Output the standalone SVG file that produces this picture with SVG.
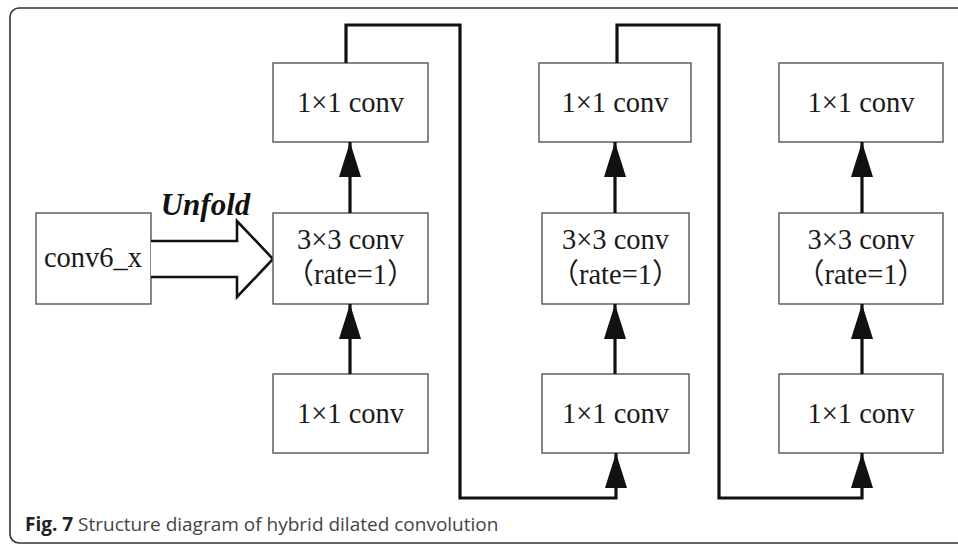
<svg xmlns="http://www.w3.org/2000/svg" width="958" height="544" viewBox="0 0 958 544">
<style>
.box{fill:#fff;stroke:#555;stroke-width:1.4}
.lbl{font-family:"Liberation Serif","Noto Sans CJK SC",serif;font-size:28.5px;fill:#1a1a1a;text-anchor:middle}
.con{fill:none;stroke:#111;stroke-width:3.2}
.cap{font-family:"Open Sans","Noto Sans",sans-serif;font-size:19px;fill:#444}
</style>
<defs>
<marker id="ah" viewBox="0 0 35 22" refX="35" refY="11" markerWidth="35" markerHeight="22" orient="auto" markerUnits="userSpaceOnUse">
<path d="M0,0 L35,11 L0,22 Z" fill="#111"/>
</marker>
</defs>
<rect x="10" y="8" width="980" height="535" rx="9" ry="9" fill="none" stroke="#333" stroke-width="1.6"/>
<g id="conv6">
<rect class="box" x="36" y="213" width="115" height="91"/>
<text class="lbl" x="93" y="267">conv6_x</text>
</g>
<g id="unfold">
<path d="M151,241 L237,241 L237,221 L273,259 L237,297 L237,277 L151,277" fill="#fff" stroke="#111" stroke-width="2.6" stroke-linejoin="miter"/>
<text x="205.5" y="215" font-family="Liberation Serif,serif" font-size="31" font-weight="bold" font-style="italic" fill="#111" text-anchor="middle">Unfold</text>
</g>
<g id="c1top"><rect class="box" x="273" y="63" width="155" height="79"/><text class="lbl" x="350.5" y="112">1×1 conv</text></g>
<g id="c1mid"><rect class="box" x="273" y="213" width="155" height="91"/><text class="lbl" x="350.5" y="249">3×3 conv</text><text class="lbl" x="350.5" y="284">（rate=1）</text></g>
<g id="c1bot"><rect class="box" x="273" y="374" width="155" height="79"/><text class="lbl" x="350.5" y="423">1×1 conv</text></g>
<g id="c2top"><rect class="box" x="539" y="63" width="152" height="79"/><text class="lbl" x="615" y="112">1×1 conv</text></g>
<g id="c2mid"><rect class="box" x="542" y="213" width="147" height="91"/><text class="lbl" x="615.5" y="249">3×3 conv</text><text class="lbl" x="615.5" y="284">（rate=1）</text></g>
<g id="c2bot"><rect class="box" x="542" y="374" width="147" height="79"/><text class="lbl" x="615.5" y="423">1×1 conv</text></g>
<g id="c3top"><rect class="box" x="779" y="63" width="164" height="79"/><text class="lbl" x="861" y="112">1×1 conv</text></g>
<g id="c3mid"><rect class="box" x="779" y="213" width="164" height="91"/><text class="lbl" x="861" y="249">3×3 conv</text><text class="lbl" x="861" y="284">（rate=1）</text></g>
<g id="c3bot"><rect class="box" x="779" y="374" width="164" height="79"/><text class="lbl" x="861" y="423">1×1 conv</text></g>
<g id="connectors">
<line class="con" x1="350" y1="213" x2="350" y2="142" marker-end="url(#ah)"/>
<line class="con" x1="350" y1="374" x2="350" y2="304" marker-end="url(#ah)"/>
<line class="con" x1="615" y1="213" x2="615" y2="142" marker-end="url(#ah)"/>
<line class="con" x1="615" y1="374" x2="615" y2="304" marker-end="url(#ah)"/>
<line class="con" x1="862" y1="213" x2="862" y2="142" marker-end="url(#ah)"/>
<line class="con" x1="862" y1="374" x2="862" y2="304" marker-end="url(#ah)"/>
<polyline class="con" points="346,63 346,25 460,25 460,498 616,498 616,453" marker-end="url(#ah)"/>
<polyline class="con" points="617,63 617,25 719,25 719,498 862,498 862,453" marker-end="url(#ah)"/>
</g>
<text class="cap" x="25" y="531"><tspan font-weight="bold" fill="#222">Fig. 7</tspan> Structure diagram of hybrid dilated convolution</text>
</svg>
